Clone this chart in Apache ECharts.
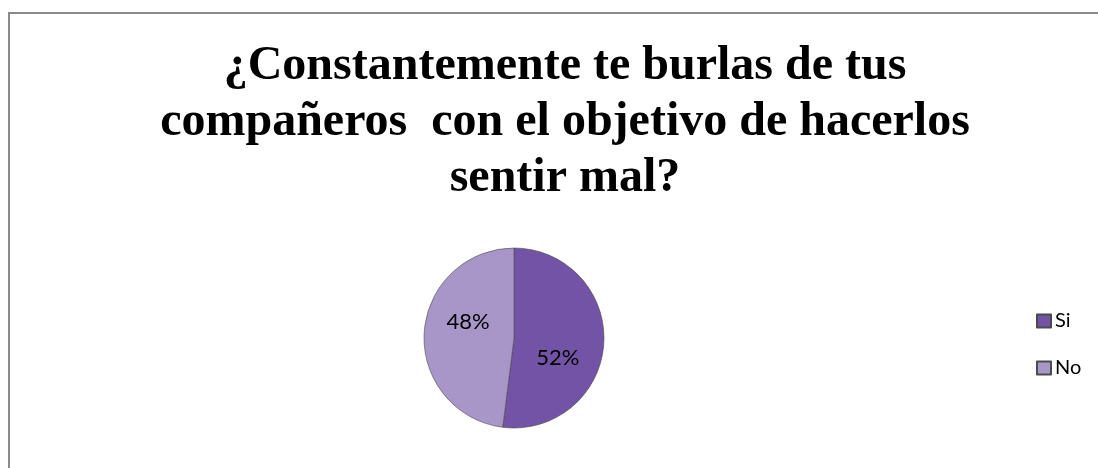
<!DOCTYPE html>
<html>
<head>
<meta charset="utf-8">
<script src="https://cdn.jsdelivr.net/npm/echarts@6/dist/echarts.min.js"></script>
<style>
  html, body { margin: 0; padding: 0; background: #fff; }
  #chart { width: 1098px; height: 468px; }
</style>
</head>
<body>
<div id="chart"></div>
<script>
const titleText = '¿Constantemente te burlas de tus\ncompañeros  con el objetivo de hacerlos\nsentir mal?'
const categories = ['Si', 'No']
const values = [52, 48]
const sliceColors = ['#7353a5', '#a896c9']

const chart = echarts.init(document.getElementById('chart'))

const pieData = categories.map((name, i) => ({
  name: name,
  value: values[i],
  itemStyle: { color: sliceColors[i] }
}))

chart.setOption({
  animation: false,
  graphic: [{
    type: 'rect',
    shape: { x: 9, y: 13, width: 1200, height: 600 },
    style: { fill: 'none', stroke: '#8a8a8a', lineWidth: 2 },
    silent: true
  }],
  title: {
    text: titleText,
    left: 560,
    textAlign: 'center',
    top: 34,
    textStyle: {
      fontFamily: 'Liberation Serif',
      fontWeight: 'bold',
      fontSize: 48,
      lineHeight: 56,
      color: '#000'
    }
  },
  legend: {
    orient: 'vertical',
    left: 1031,
    top: 306,
    icon: 'rect',
    itemWidth: 14,
    itemHeight: 13,
    itemGap: 27,
    data: categories,
    textStyle: {
      fontFamily: 'Lato',
      fontSize: 20,
      lineHeight: 20,
      color: '#000',
      padding: [0, 0, 0, -1]
    }
  },
  series: [{
    type: 'pie',
    center: [514, 338],
    radius: 90,
    startAngle: 90,
    clockwise: true,
    label: {
      show: true,
      position: 'inside',
      formatter: '{d}%',
      fontFamily: 'Lato',
      fontSize: 22,
      color: '#000'
    },
    // Excel puts the labels a bit off the slice middle
    labelLayout: function (params) {
      return params.dataIndex === 0 ? { dx: -4, dy: 17 } : { dx: 2, dy: -13 }
    },
    labelLine: { show: false },
    itemStyle: { borderColor: '#4a4a4a', borderWidth: 0.6 },
    emphasis: { disabled: true },
    data: pieData
  }]
})
</script>
</body>
</html>
